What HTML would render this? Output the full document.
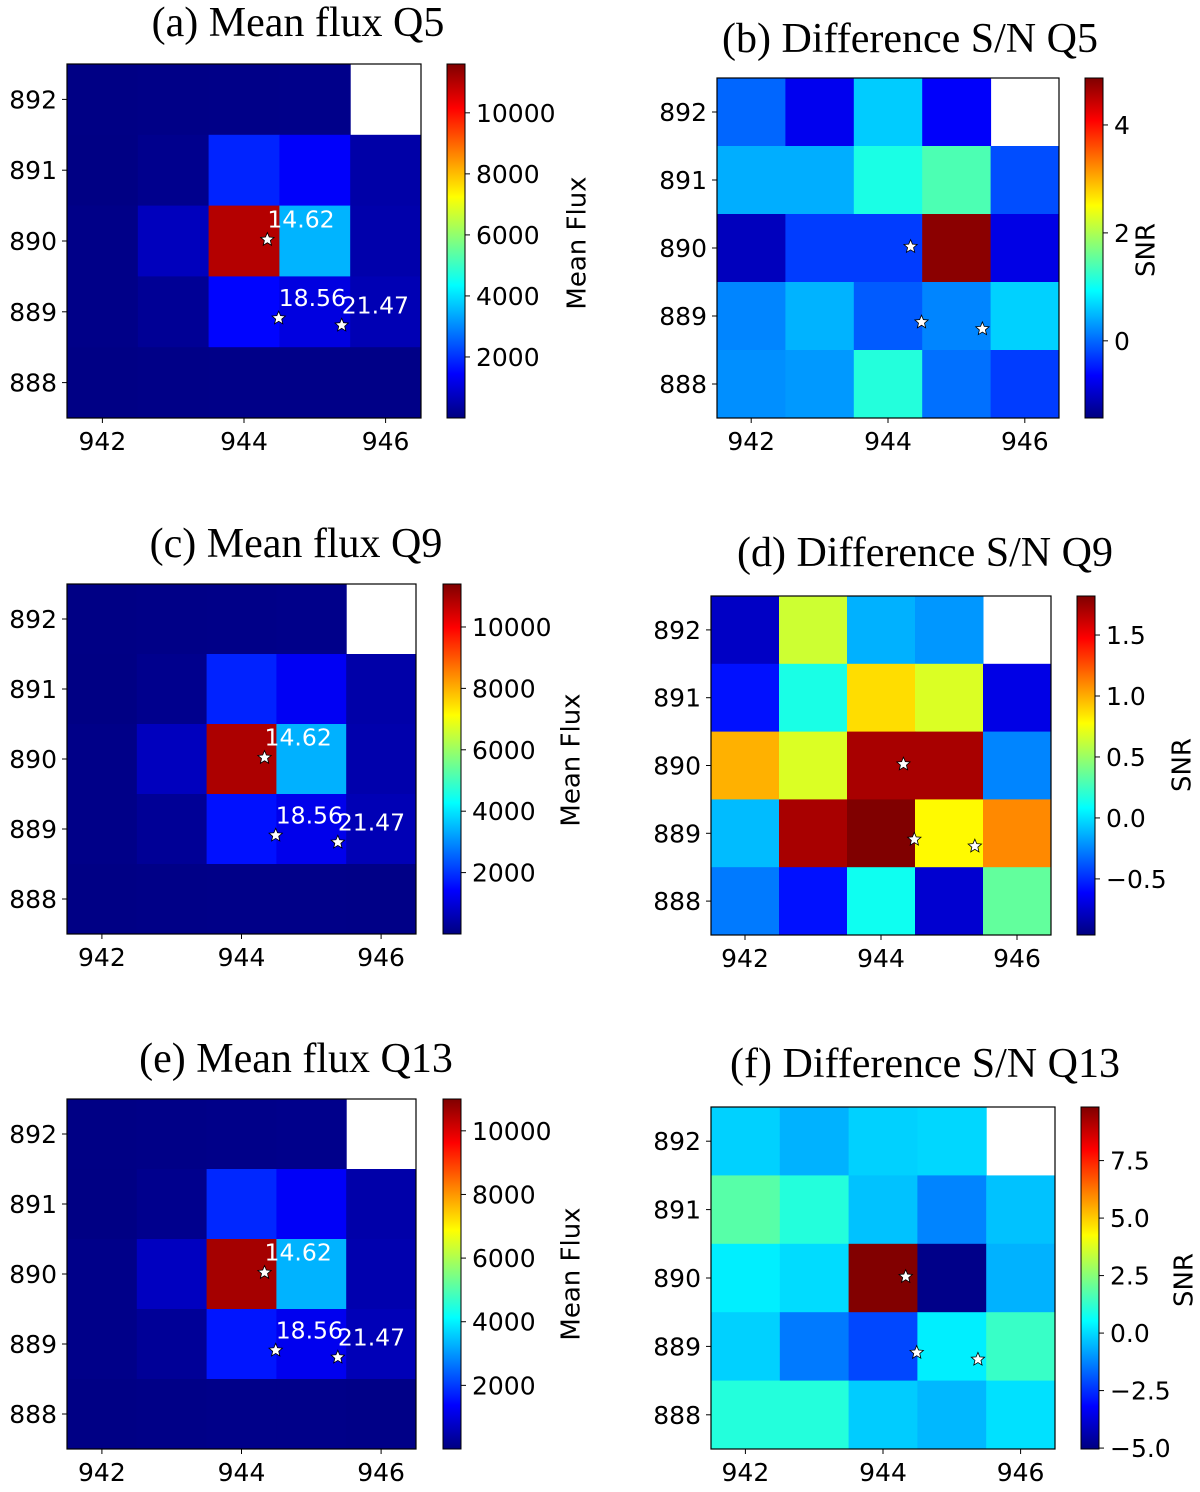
<!DOCTYPE html>
<html><head><meta charset="utf-8"><style>
html,body{margin:0;padding:0;background:#fff;}
svg{display:block;}
text{font-family:"DejaVu Sans","Liberation Sans",sans-serif;}
.title{font-family:"Liberation Serif","DejaVu Serif",serif;font-size:42px;}
</style></head><body>
<svg id="fig" width="1200" height="1492" viewBox="0 0 1200 1492" xmlns="http://www.w3.org/2000/svg"></svg>
<script>
// ---- data ----
const xCats = [942, 943, 944, 945, 946];
const yCats = [892, 891, 890, 889, 888];
const xTickLabels = ["942", "944", "946"];
const xTickValues = [942, 944, 946];
const yTickValues = [892, 891, 890, 889, 888];
const fluxQ5 = [
  [60, 80, 100, 120, null],
  [50, 150, 1850, 1400, 450],
  [100, 700, 11000, 3500, 500],
  [100, 250, 1500, 1100, 600],
  [60, 80, 100, 100, 80]
];
const fluxQ9 = [
  [60, 80, 100, 120, null],
  [50, 150, 1800, 1300, 450],
  [100, 700, 10900, 3400, 500],
  [100, 250, 1600, 1200, 600],
  [60, 80, 100, 100, 80]
];
const fluxQ13 = [
  [60, 80, 100, 120, null],
  [50, 150, 1800, 1300, 450],
  [100, 700, 10600, 3300, 500],
  [100, 250, 1600, 1200, 600],
  [60, 80, 100, 100, 80]
];
const snrQ5 = [
  [-0.01, -0.74, 0.62, -0.67, null],
  [0.43, 0.43, 1.09, 1.4, -0.17],
  [-1.05, -0.27, -0.27, 4.8, -0.8],
  [0.18, 0.46, -0.08, 0.18, 0.65],
  [0.24, 0.3, 1.15, 0.05, -0.27]
];
const snrQ9 = [
  [-0.77, 0.64, -0.13, -0.2, null],
  [-0.57, 0.15, 0.87, 0.68, -0.68],
  [0.99, 0.68, 1.71, 1.71, -0.25],
  [-0.1, 1.71, 1.82, 0.79, 1.1],
  [-0.28, -0.57, 0.12, -0.74, 0.35]
];
const snrQ13 = [
  [-0.13, -0.58, -0.13, -0.05, null],
  [1.8, 1.05, -0.36, -1.25, -0.36],
  [0.31, 0.02, 9.8, -4.9, -0.58],
  [-0.13, -1.4, -2.14, 0.31, 1.35],
  [1.05, 1.05, -0.2, -0.5, 0.1]
];
const starX = [944.33, 944.49, 945.38];
const starY = [890.02, 888.91, 888.81];
const starLabels = ["14.62", "18.56", "21.47"];
const fluxTicks = [2000, 4000, 6000, 8000, 10000];
const fluxTickLabels = ["2000", "4000", "6000", "8000", "10000"];
const snrQ5Ticks = [0, 2, 4];
const snrQ5TickLabels = ["0", "2", "4"];
const snrQ9Ticks = [-0.5, 0, 0.5, 1.0, 1.5];
const snrQ9TickLabels = ["\u22120.5", "0.0", "0.5", "1.0", "1.5"];
const snrQ13Ticks = [-5, -2.5, 0, 2.5, 5, 7.5];
const snrQ13TickLabels = ["\u22125.0", "\u22122.5", "0.0", "2.5", "5.0", "7.5"];

// ---- layout ----
const panels = [
  {id:"a", title:"(a) Mean flux Q5", tx:298, ty:36, x0:67, x1:421, y0:64, y1:418, cb0:447, cb1:465, vmin:0, vmax:11600, data:fluxQ5, ticks:fluxTicks, tl:fluxTickLabels, lab:"Mean Flux", lx:578, ly:243, labels:true},
  {id:"b", title:"(b) Difference S/N Q5", tx:910, ty:52, x0:717, x1:1059, y0:78, y1:418, cb0:1085, cb1:1103, vmin:-1.43, vmax:4.87, data:snrQ5, ticks:snrQ5Ticks, tl:snrQ5TickLabels, lab:"SNR", lx:1147, ly:250, labels:false},
  {id:"c", title:"(c) Mean flux Q9", tx:296, ty:557, x0:67, x1:416, y0:584, y1:934, cb0:443, cb1:461, vmin:0, vmax:11400, data:fluxQ9, ticks:fluxTicks, tl:fluxTickLabels, lab:"Mean Flux", lx:572, ly:760, labels:true},
  {id:"d", title:"(d) Difference S/N Q9", tx:925, ty:566, x0:711, x1:1051, y0:596, y1:935, cb0:1077, cb1:1095, vmin:-0.96, vmax:1.82, data:snrQ9, ticks:snrQ9Ticks, tl:snrQ9TickLabels, lab:"SNR", lx:1183, ly:765, labels:false},
  {id:"e", title:"(e) Mean flux Q13", tx:296, ty:1072, x0:67, x1:416, y0:1099, y1:1449, cb0:443, cb1:461, vmin:0, vmax:11000, data:fluxQ13, ticks:fluxTicks, tl:fluxTickLabels, lab:"Mean Flux", lx:572, ly:1274, labels:true},
  {id:"f", title:"(f) Difference S/N Q13", tx:925, ty:1077, x0:711, x1:1055, y0:1107, y1:1449, cb0:1081, cb1:1099, vmin:-5.04, vmax:9.83, data:snrQ13, ticks:snrQ13Ticks, tl:snrQ13TickLabels, lab:"SNR", lx:1185, ly:1280, labels:false}
];

const NS = "http://www.w3.org/2000/svg";
const svg = document.getElementById("fig");
function mk(tag, attrs, parent){
  const e = document.createElementNS(NS, tag);
  for (const k in attrs) e.setAttribute(k, attrs[k]);
  (parent||svg).appendChild(e);
  return e;
}
function clip(v){return Math.max(0, Math.min(1, v));}
function jet(t){
  t = clip(t);
  const r = clip(1.5 - Math.abs(4*t - 3)), g = clip(1.5 - Math.abs(4*t - 2)), b = clip(1.5 - Math.abs(4*t - 1));
  return "rgb(" + Math.round(r*255) + "," + Math.round(g*255) + "," + Math.round(b*255) + ")";
}
function starPts(cx, cy, R){
  const r = R*0.45, pts = [];
  for (let i=0;i<10;i++){
    const a = -Math.PI/2 + i*Math.PI/5, rr = i%2 ? r : R;
    pts.push((cx + rr*Math.cos(a)).toFixed(2) + "," + (cy + rr*Math.sin(a)).toFixed(2));
  }
  return pts.join(" ");
}

panels.forEach(p => {
  const g = mk("g", {});
  
  
  const sx = v => p.x0 + (v - 941.5) / 5 * (p.x1 - p.x0);
  const sy = v => p.y0 + (892.5 - v) / 5 * (p.y1 - p.y0);
  const cy = v => p.y1 - (v - p.vmin) / (p.vmax - p.vmin) * (p.y1 - p.y0);
  const norm = v => (v - p.vmin) / (p.vmax - p.vmin);

  const t = mk("text", {x:p.tx, y:p.ty, "text-anchor":"middle", "class":"title"}, g);
  t.textContent = p.title;
  
  

  yCats.forEach((yv, ri) => {
    xCats.forEach((xv, ci) => {
      const v = p.data[ri][ci];
      if (v === null) return;
      const x = sx(xv - 0.5), y = sy(yv + 0.5);
      const w = sx(xv + 0.5) - x, h = sy(yv - 0.5) - y;
      const r = mk("rect", {x:x, y:y, width:w+0.5, height:h+0.5, fill:jet(norm(v))}, g);
      
      
    });
  });
  const fr = mk("rect", {x:p.x0, y:p.y0, width:p.x1-p.x0, height:p.y1-p.y0, fill:"none", stroke:"#000", "stroke-width":1.2}, g);
  
  

  xTickValues.forEach((v, i) => {
    const x = sx(v);
    mk("line", {x1:x, x2:x, y1:p.y1, y2:p.y1+5, stroke:"#000", "stroke-width":1}, g);
    const tx = mk("text", {x:x, y:p.y1+32, "text-anchor":"middle", "font-size":25}, g);
    tx.textContent = xTickLabels[i];
    
    
  });
  yTickValues.forEach(v => {
    const y = sy(v);
    mk("line", {x1:p.x0-5, x2:p.x0, y1:y, y2:y, stroke:"#000", "stroke-width":1}, g);
    const ty = mk("text", {x:p.x0-10, y:y+9, "text-anchor":"end", "font-size":25}, g);
    ty.textContent = String(v);
    
    
  });

  starX.forEach((xv, i) => {
    const x = sx(xv), y = sy(starY[i]);
    const s = mk("polygon", {points:starPts(x, y, 7), fill:"#fff", stroke:"#000", "stroke-width":0.8}, g);
    
    
    if (p.labels){
      const l = mk("text", {x:x, y:y-12, fill:"#fff", "font-size":23.5}, g);
      l.textContent = starLabels[i];
      
      
    }
  });

  const gid = "grad" + p.id;
  const defs = mk("defs", {}, g);
  const lg = mk("linearGradient", {id:gid, x1:0, y1:1, x2:0, y2:0}, defs);
  for (let i=0;i<=40;i++){
    mk("stop", {offset:(i/40), "stop-color":jet(i/40)}, lg);
  }
  const cb = mk("rect", {x:p.cb0, y:p.y0, width:p.cb1-p.cb0, height:p.y1-p.y0, fill:"url(#"+gid+")", stroke:"#000", "stroke-width":1}, g);
  
  
  p.ticks.forEach((v, i) => {
    const y = cy(v);
    mk("line", {x1:p.cb1, x2:p.cb1+5, y1:y, y2:y, stroke:"#000", "stroke-width":1}, g);
    const tl = mk("text", {x:p.cb1+11, y:y+9, "font-size":25}, g);
    tl.textContent = p.tl[i];
    
    
  });
  const lab = mk("text", {x:p.lx, y:p.ly, "text-anchor":"middle", "font-size":26, transform:"rotate(-90 "+p.lx+" "+p.ly+")", "dominant-baseline":"middle"}, g);
  lab.textContent = p.lab;
  
  
});
</script>
</body></html>
